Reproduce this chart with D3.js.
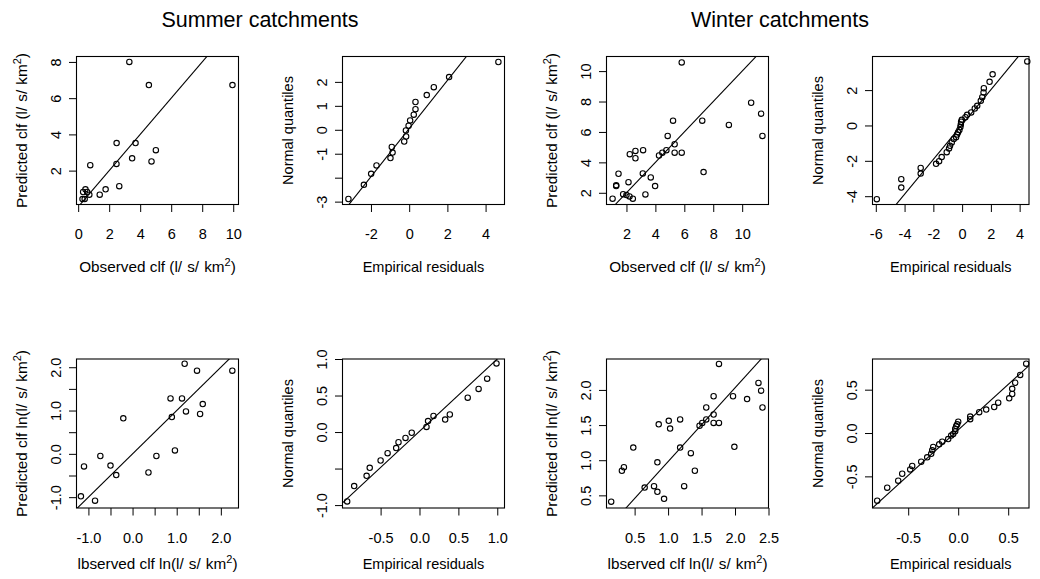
<!DOCTYPE html>
<html>
<head>
<meta charset="utf-8">
<script src="https://cdn.jsdelivr.net/npm/d3@7"></script>
<style>
body { margin: 0; background: #fff; }
</style>
</head>
<body>
<script>
// summer, observed vs predicted clf
const sumObs  = [3.30, 4.56, 9.95, 2.48, 3.70, 5.01, 3.48, 4.73, 2.47, 0.78, 2.65, 1.77, 1.39, 0.47, 0.58, 0.32, 0.72, 0.28, 0.42]
const sumPred = [8.00, 6.72, 6.72, 3.52, 3.52, 3.13, 2.68, 2.51, 2.37, 2.30, 1.14, 0.97, 0.67, 0.97, 0.82, 0.82, 0.67, 0.43, 0.43]
// summer qq
const sumResid = [-3.18, -2.37, -1.99, -1.71, -0.98, -0.87, -0.91, -0.26, -0.16, -0.17, -0.03, 0.05, 0.24, 0.33, 0.33, 0.92, 1.29, 2.09, 4.67]
const sumQuant = [-2.89, -2.30, -1.84, -1.49, -1.18, -0.95, -0.72, -0.49, -0.28, -0.03, 0.17, 0.39, 0.63, 0.86, 1.16, 1.45, 1.78, 2.20, 2.83]
// winter, observed vs predicted clf
const winObs  = [5.82, 10.62, 11.31, 9.08, 11.40, 7.24, 5.22, 4.85, 5.33, 4.76, 4.48, 4.25, 5.33, 5.82, 3.15, 2.62, 2.62, 2.23, 7.33, 3.13, 3.68, 3.98, 3.31, 1.45, 1.29, 1.29, 2.14, 1.77, 2.00, 2.21, 2.44, 1.04]
const winPred = [10.57, 7.92, 7.20, 6.46, 5.74, 6.74, 6.74, 5.74, 5.19, 4.80, 4.64, 4.45, 4.64, 4.64, 4.80, 4.75, 4.27, 4.54, 3.36, 3.27, 3.01, 2.44, 1.89, 3.25, 2.50, 2.44, 2.70, 1.91, 1.85, 1.76, 1.61, 1.61]
// winter qq
const winResid = [-5.93, -4.23, -4.23, -2.88, -2.88, -1.81, -1.60, -1.42, -1.07, -0.91, -0.84, -0.72, -0.58, -0.42, -0.35, -0.28, -0.19, -0.12, -0.09, -0.07, -0.02, 0.23, 0.35, 0.63, 0.88, 1.05, 1.30, 1.40, 1.49, 1.51, 1.91, 2.12, 4.53]
const winQuant = [-4.17, -3.04, -3.51, -2.40, -2.72, -2.17, -2.02, -1.79, -1.51, -1.30, -1.15, -0.96, -0.77, -0.66, -0.51, -0.38, -0.25, -0.09, 0.06, 0.21, 0.32, 0.47, 0.60, 0.74, 0.96, 1.11, 1.40, 1.60, 1.87, 2.11, 2.47, 2.89, 3.62]
// summer, log scale
const sumLnObs  = [-1.17, -1.10, -0.85, -0.73, -0.50, -0.37, -0.21, 0.36, 0.54, 0.96, 0.86, 0.89, 1.12, 1.18, 1.21, 1.46, 1.53, 1.59, 2.26]
const sumLnPred = [-0.98, -0.29, -1.08, -0.05, -0.27, -0.49, 0.82, -0.43, -0.05, 0.08, 1.28, 0.85, 1.28, 2.08, 0.98, 1.92, 0.92, 1.15, 1.92]
const sumLnResid = [-0.93, -0.84, -0.68, -0.64, -0.50, -0.41, -0.30, -0.27, -0.18, -0.10, 0.09, 0.11, 0.18, 0.33, 0.39, 0.62, 0.76, 0.87, 0.99]
const sumLnQuant = [-0.95, -0.74, -0.60, -0.49, -0.39, -0.29, -0.22, -0.14, -0.08, -0.01, 0.07, 0.15, 0.22, 0.17, 0.24, 0.47, 0.59, 0.73, 0.94]
// winter, log scale
const winLnObs  = [0.15, 0.31, 0.34, 0.48, 0.65, 0.79, 0.84, 0.84, 0.86, 0.94, 1.01, 1.03, 1.18, 1.18, 1.24, 1.34, 1.40, 1.47, 1.51, 1.57, 1.57, 1.68, 1.68, 1.68, 1.76, 1.76, 1.97, 1.99, 2.18, 2.35, 2.39, 2.41]
const winLnPred = [0.41, 0.85, 0.90, 1.18, 0.61, 0.63, 0.55, 0.97, 1.51, 0.45, 1.56, 1.45, 1.58, 1.18, 0.63, 1.10, 0.85, 1.49, 1.53, 1.58, 1.75, 1.53, 1.65, 1.91, 1.53, 2.37, 1.91, 1.19, 1.87, 2.10, 1.99, 1.75]
const winLnResid = [-0.81, -0.71, -0.60, -0.56, -0.48, -0.46, -0.37, -0.31, -0.27, -0.26, -0.25, -0.19, -0.16, -0.10, -0.07, -0.05, -0.03, -0.03, -0.02, -0.01, 0.00, 0.12, 0.12, 0.21, 0.28, 0.36, 0.40, 0.51, 0.54, 0.54, 0.57, 0.62, 0.68]
const winLnQuant = [-0.78, -0.63, -0.55, -0.47, -0.42, -0.38, -0.33, -0.28, -0.24, -0.20, -0.16, -0.13, -0.10, -0.07, -0.03, -0.01, 0.02, 0.05, 0.08, 0.10, 0.13, 0.16, 0.19, 0.24, 0.27, 0.30, 0.35, 0.40, 0.45, 0.51, 0.58, 0.67, 0.80]

// axis ranges and reference lines (intercept, slope)
const xDomains = [[-0.107, 10.34], [-3.49, 4.99], [0.62, 11.82], [-6.23, 4.65], [-1.27, 2.40], [-0.99, 1.093], [0.08, 2.5], [-0.857, 0.708]]
const yDomains = [[0.13, 8.30], [-3.12, 3.06], [1.23, 10.96], [-4.47, 3.9], [-1.25, 2.19], [-1.04, 1.0], [0.32, 2.44], [-0.865, 0.854]]
const refLines = [[0, 1], [0.05, 1.005], [0, 1], [0.05, 0.985], [0, 1], [0.01, 0.99], [-0.07, 1.05], [0.035, 1.049]]

// ticks
const xTicks = [[0, 2, 4, 6, 8, 10], [-2, 0, 2, 4], [2, 4, 6, 8, 10], [-6, -4, -2, 0, 2, 4],
    [-1, -0.5, 0, 0.5, 1, 1.5, 2], [-0.5, 0, 0.5, 1], [0.5, 1, 1.5, 2, 2.5], [-0.5, 0, 0.5]]
const xTickLabels = [['0', '2', '4', '6', '8', '10'], ['-2', '0', '2', '4'], ['2', '4', '6', '8', '10'], ['-6', '-4', '-2', '0', '2', '4'],
    ['-1.0', '', '0.0', '', '1.0', '', '2.0'], ['-0.5', '0.0', '0.5', '1.0'], ['0.5', '1.0', '1.5', '2.0', '2.5'], ['-0.5', '0.0', '0.5']]
const yTicks = [[2, 4, 6, 8], [-3, -2, -1, 0, 1, 2], [2, 4, 6, 8, 10], [-4, -2, 0, 2],
    [-1, -0.5, 0, 0.5, 1, 1.5, 2], [-1, -0.5, 0, 0.5, 1], [0.5, 1, 1.5, 2], [-0.5, 0, 0.5]]
const yTickLabels = [['2', '4', '6', '8'], ['-3', '', '-1', '0', '1', '2'], ['2', '4', '6', '8', '10'], ['-4', '-2', '0', '2'],
    ['-1.0', '', '0.0', '', '1.0', '', '2.0'], ['-1.0', '', '0.0', '0.5', '1.0'], ['0.5', '1.0', '1.5', '2.0'], ['-0.5', '0.0', '0.5']]

const titles = ['Summer catchments', 'Winter catchments']
// [text, superscript, after]
const obsLab = ['Observed clf (l/\u2004s/\u2004km', '2', ')']
const predLab = ['Predicted clf (l/\u2004s/\u2004km', '2', ')']
const obsLnLab = ['lbserved clf ln(l/\u2004s/\u2004km', '2', ')']
const predLnLab = ['Predicted clf ln(l/\u2004s/\u2004km', '2', ')']
const residLab = ['Empirical residuals', '', '']
const quantLab = ['Normal quantiles', '', '']

const W = 1040, H = 579
const FONT = '"Liberation Sans", Arial, Helvetica, sans-serif'

const cols = [[76.5, 238.5], [342.5, 504.5], [606.5, 768.5], [872.5, 1029]]
const rows = [[56.5, 204.5], [359, 508]]
const xTitleOff = [67, 60.5]

const panels = [
    {xs: sumObs, ys: sumPred, xl: obsLab, yl: predLab},
    {xs: sumResid, ys: sumQuant, xl: residLab, yl: quantLab},
    {xs: winObs, ys: winPred, xl: obsLab, yl: predLab},
    {xs: winResid, ys: winQuant, xl: residLab, yl: quantLab},
    {xs: sumLnObs, ys: sumLnPred, xl: obsLnLab, yl: predLnLab},
    {xs: sumLnResid, ys: sumLnQuant, xl: residLab, yl: quantLab},
    {xs: winLnObs, ys: winLnPred, xl: obsLnLab, yl: predLnLab},
    {xs: winLnResid, ys: winLnQuant, xl: residLab, yl: quantLab}
]

const svg = d3.select('body')
    .append('svg')
    .attr('width', W)
    .attr('height', H)
    .attr('font-family', FONT)

svg.selectAll('text.title')
    .data(titles)
    .enter()
    .append('text')
    .attr('class', 'title')
    .attr('x', (d, i) => W * (0.25 + 0.5 * i))
    .attr('y', 27)
    .attr('text-anchor', 'middle')
    .attr('font-size', 21.5)
    .text(d => d)

// plain text, or text with a superscript (plotmath-like)
function label(sel, lab) {
    sel.attr('font-size', lab[1] ? 15.3 : 14.5)
    sel.append('tspan').text(lab[0])
    if (lab[1]) {
        sel.append('tspan').attr('dy', '-0.5em').attr('font-size', '0.72em').text(lab[1])
        sel.append('tspan').attr('dy', '0.36em').text(lab[2])
    }
}

panels.forEach((p, k) => {
    const r = Math.floor(k / 4), c = k % 4
    const [x0, x1] = cols[c]
    const [y0, y1] = rows[r]

    const x = d3.scaleLinear().domain(xDomains[k]).range([x0, x1])
    const y = d3.scaleLinear().domain(yDomains[k]).range([y1, y0])

    const g = svg.append('g')

    g.append('clipPath')
        .attr('id', 'clip' + k)
        .append('rect')
        .attr('x', x0).attr('y', y0)
        .attr('width', x1 - x0).attr('height', y1 - y0)

    // reference line
    const [a, b] = refLines[k]
    g.append('line')
        .attr('clip-path', `url(#clip${k})`)
        .attr('x1', x(xDomains[k][0]))
        .attr('y1', y(a + b * xDomains[k][0]))
        .attr('x2', x(xDomains[k][1]))
        .attr('y2', y(a + b * xDomains[k][1]))
        .attr('stroke', '#000')
        .attr('stroke-width', 1.1)

    g.selectAll('circle')
        .data(p.xs.map((v, i) => [v, p.ys[i]]))
        .enter()
        .append('circle')
        .attr('cx', d => x(d[0]))
        .attr('cy', d => y(d[1]))
        .attr('r', 2.7)
        .attr('fill', 'none')
        .attr('stroke', '#000')
        .attr('stroke-width', 1.1)

    g.append('rect')
        .attr('x', x0).attr('y', y0)
        .attr('width', x1 - x0).attr('height', y1 - y0)
        .attr('fill', 'none')
        .attr('stroke', '#000')
        .attr('stroke-width', 1.1)

    const xAxis = d3.axisBottom(x)
        .tickValues(xTicks[k])
        .tickFormat((d, i) => xTickLabels[k][i])
        .tickSize(7.5)
        .tickSizeOuter(0)

    const yAxis = d3.axisLeft(y)
        .tickValues(yTicks[k])
        .tickFormat((d, i) => yTickLabels[k][i])
        .tickSize(7.5)
        .tickSizeOuter(0)

    g.append('g')
        .attr('transform', 'translate(0,' + y1 + ')')
        .call(xAxis)
        .attr('font-family', FONT)
        .attr('font-size', 14.5)
        .call(ax => ax.select('.domain').remove())
        .selectAll('text')
        .attr('y', 29.5)
        .attr('dy', '0.36em')
        .attr('fill', '#000')

    g.append('g')
        .attr('transform', 'translate(' + x0 + ',0)')
        .call(yAxis)
        .attr('font-family', FONT)
        .attr('font-size', 14.5)
        .call(ax => ax.select('.domain').remove())
        .selectAll('text')
        .attr('x', null)
        .attr('text-anchor', 'middle')
        .attr('transform', 'translate(-21,0) rotate(-90)')
        .attr('dy', '0.36em')
        .attr('fill', '#000')

    g.append('text')
        .attr('x', (x0 + x1) / 2)
        .attr('y', y1 + xTitleOff[r])
        .attr('text-anchor', 'middle')
        .call(label, p.xl)

    g.append('text')
        .attr('transform', `translate(${x0 - 50},${(y0 + y1) / 2}) rotate(-90)`)
        .attr('text-anchor', 'middle')
        .call(label, p.yl)
})
</script>
</body>
</html>
